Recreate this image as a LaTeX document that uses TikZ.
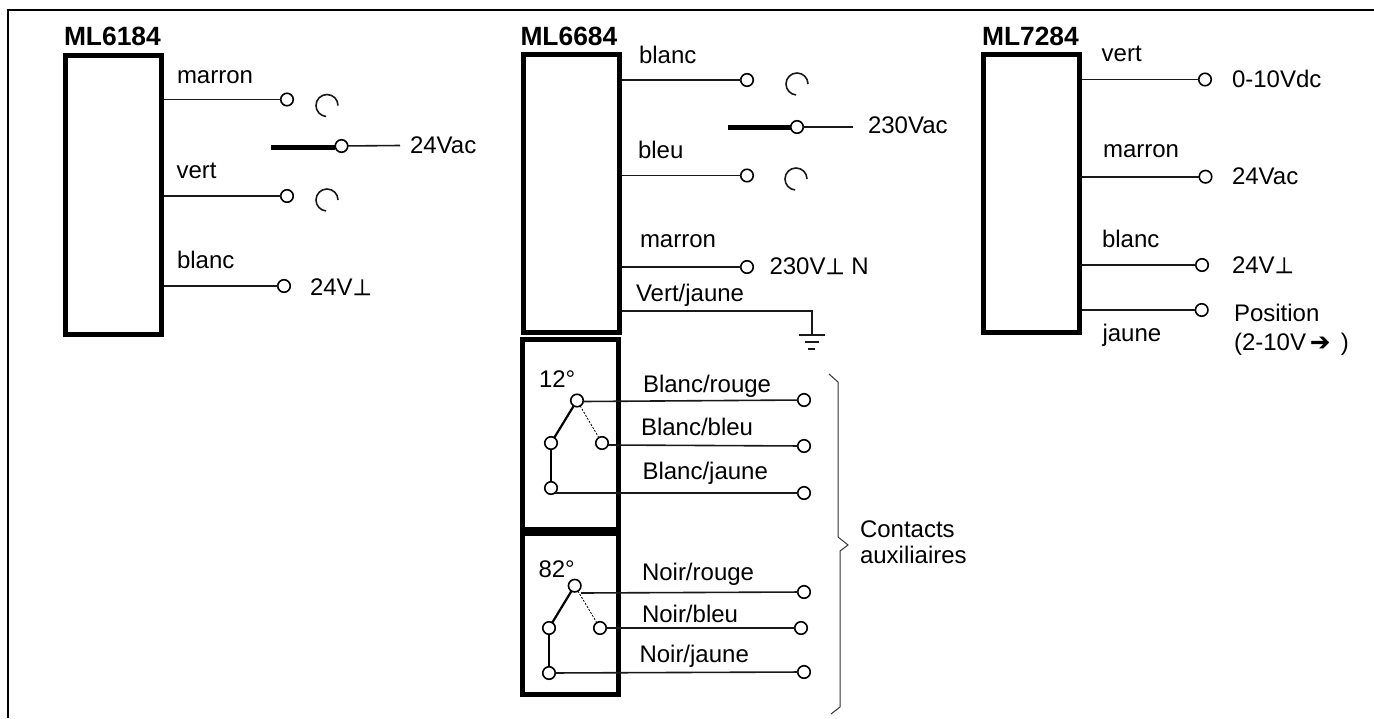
\documentclass[tikz,border=0pt]{standalone}
\usepackage{fontspec}
\setmainfont{Liberation Sans}
\newfontfamily\symfont[FakeBold=1.2]{DejaVu Sans}
\newcommand{\gnd}{{\symfont\fontsize{22}{22}\selectfont ⊥}}
\newcommand{\gaparc}[2]{\draw[wire] (#1,#2) ++(11pt,0pt) arc[start angle=0,end angle=265,radius=11pt];}
\tikzset{
  x=1pt,y=-1pt,
  wire/.style={line width=1.6pt,draw=black!90},
  heavy/.style={line width=2.2pt},
  bar/.style={line width=5pt},
  term/.style={circle,draw=black,line width=1.6pt,fill=white,minimum size=12.5pt,inner sep=0pt,outer sep=0pt},
  boxx/.style={draw=black,line width=5pt,minimum width=96pt,inner sep=0pt},
  lbl/.style={anchor=base west,inner sep=0pt,outer sep=0pt,font=\fontsize{24}{26}\selectfont},
  hd/.style={anchor=base west,inner sep=0pt,outer sep=0pt,font=\fontsize{26.4}{28}\selectfont\bfseries},
}
\begin{document}
\begin{tikzpicture}
\useasboundingbox (0,0) rectangle (1374,718);
\coordinate (fa) at (8,718);
\coordinate (fb) at (8,10);
\coordinate (fc) at (1374,10);
\draw[line width=2pt] (fa) -- (fb) -- (fc);

% ---------- ML6184
\node[hd] (h1) at (64,45) {ML6184};
\node[boxx,minimum height=278.5pt] (b1) at (113.25,194.75) {};
\node[term] (a1) at (287,99.5) {};
\node[term] (a2) at (287,196) {};
\node[term] (a3) at (284,286) {};
\node[term] (a4) at (341.5,146) {};
\coordinate (a5) at (400,145.5);
\coordinate (a6) at (271,147);
\draw[wire] (b1.east |- a1) -- (a1);
\draw[wire] (b1.east |- a2) -- (a2);
\draw[wire] (b1.east |- a3) -- (a3);
\draw[wire] (a4) -- (a5);
\draw[bar] (a6) -- (a4.west |- a6);
\gaparc{327}{105.5}
\gaparc{327}{200}
\node[lbl] (l1) at (177,83) {marron};
\node[lbl] (l2) at (176.5,178) {vert};
\node[lbl] (l3) at (177,268) {blanc};
\node[lbl] (l4) at (410,153) {24Vac};
\node[lbl] (l5) at (310,295) {24V\gnd};

% ---------- ML6684
\node[hd] (h2) at (520.5,45) {ML6684};
\node[boxx,minimum height=278.5pt] (b2) at (571,193.25) {};
\node[boxx,minimum height=190pt] (b3) at (570.75,434.5) {};
\node[boxx,minimum height=161.5pt] (b4) at (570.75,613.75) {};
\node[term] (c1) at (747,80) {};
\node[term] (c2) at (747,175.5) {};
\node[term] (c3) at (747,267) {};
\node[term] (c4) at (797,127) {};
\coordinate (c5) at (853,127);
\coordinate (c6) at (728,127);
\coordinate (g0) at (812,311);
\coordinate (g1) at (812,335);
\coordinate (g2l) at (799,335); \coordinate (g2r) at (825,335);
\coordinate (g3l) at (805,342); \coordinate (g3r) at (819,342);
\coordinate (g4l) at (808,349); \coordinate (g4r) at (815,349);
\draw[wire] (b2.east |- c1) -- (c1);
\draw[wire] (b2.east |- c2) -- (c2);
\draw[wire] (b2.east |- c3) -- (c3);
\draw[wire] (b2.east |- g0) -- (g0) -- (g1);
\draw[wire] (g2l) -- (g2r);
\draw[wire] (g3l) -- (g3r);
\draw[wire] (g4l) -- (g4r);
\draw[wire] (c4) -- (c5);
\draw[bar] (c6) -- (c4.west |- c6);
\gaparc{797}{84}
\gaparc{796}{179}
\node[lbl] (m1) at (639,63) {blanc};
\node[lbl] (m2) at (638,158) {bleu};
\node[lbl] (m3) at (640,247) {marron};
\node[lbl] (m4) at (636,301) {Vert/jaune};
\node[lbl] (m5) at (868,133) {230Vac};
\node[lbl] (m6) at (769.5,274) {230V\gnd{} N};

% contact 12
\node[lbl] (n1) at (539,387) {12°};
\node[term] (p1) at (577,400.5) {};
\node[term] (p2) at (551,443) {};
\node[term] (p3) at (602,443) {};
\node[term] (p4) at (551,488) {};
\node[term] (q1) at (804,400) {};
\node[term] (q2) at (804,446) {};
\node[term] (q3) at (804,493) {};
\coordinate (r1) at (583,401.5);
\coordinate (r2) at (608,445);
\coordinate (r3) at (555,493);
\draw[wire] (r1) -- (q1);
\draw[wire] (r2) -- (q2);
\draw[wire] (r3) -- (q3);
\draw[heavy] (p1) -- (p2);
\draw[heavy] (p2) -- (p4);
\draw[line width=.8pt,dash pattern=on 2pt off 1.5pt] (p1) -- (p3);
\node[lbl] (o1) at (643,392) {Blanc/rouge};
\node[lbl] (o2) at (641,435) {Blanc/bleu};
\node[lbl] (o3) at (642.5,479) {Blanc/jaune};

% contact 82
\node[lbl] (n2) at (538.5,577) {82°};
\node[term] (s1) at (574.7,585.7) {};
\node[term] (s2) at (549,628) {};
\node[term] (s3) at (600,628) {};
\node[term] (s4) at (549,673) {};
\node[term] (t1) at (804,592) {};
\node[term] (t2) at (801,628) {};
\node[term] (t3) at (804,672) {};
\coordinate (u1) at (581,593);
\draw[wire] (u1) -- (t1);
\draw[wire] (s3) -- (t2);
\draw[wire] (s4) -- (t3);
\draw[heavy] (s1) -- (s2);
\draw[heavy] (s2) -- (s4);
\draw[line width=.8pt,dash pattern=on 2pt off 1.5pt] (s1) -- (s3);
\node[lbl] (v1) at (642,580) {Noir/rouge};
\node[lbl] (v2) at (642,622.7) {Noir/bleu};
\node[lbl] (v3) at (639.5,662) {Noir/jaune};

% brace
\draw[line width=1pt,draw=black!80] (829,374) -- (838,382) -- (838,537) -- (848,545) -- (840,551) -- (840,707) -- (831,714);
\node[lbl] (w1) at (860,537) {Contacts};
\node[lbl] (w2) at (860,563) {auxiliaires};

% ---------- ML7284
\node[hd] (h3) at (982,45) {ML7284};
\node[boxx,minimum height=278.5pt] (b5) at (1031,193.25) {};
\node[term] (d1) at (1205,79.5) {};
\node[term] (d2) at (1205.5,176.7) {};
\node[term] (d3) at (1202,265) {};
\node[term] (d4) at (1201.7,310) {};
\draw[wire] (b5.east |- d1) -- (d1);
\draw[wire] (b5.east |- d2) -- (d2);
\draw[wire] (b5.east |- d3) -- (d3);
\draw[wire] (b5.east |- d4) -- (d4);
\node[lbl] (e1) at (1101.7,61.7) {vert};
\node[lbl] (e2) at (1103,157.7) {marron};
\node[lbl] (e3) at (1102,247.7) {blanc};
\node[lbl] (e4) at (1102.5,341.7) {jaune};
\node[lbl] (e5) at (1232,87) {0-10Vdc};
\node[lbl] (e6) at (1232,184) {24Vac};
\node[lbl] (e7) at (1232,273) {24V\gnd};
\node[lbl] (e8) at (1234,321.7) {Position};
\node[lbl] (e9) at (1234,350) {(2-10V\,{\symfont\fontsize{24}{24}\selectfont ➔}\, )};
\end{tikzpicture}
\end{document}
